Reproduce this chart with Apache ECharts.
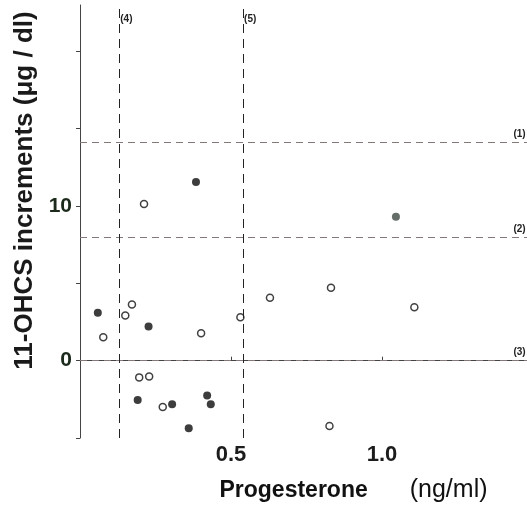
<!DOCTYPE html>
<html>
<head>
<meta charset="utf-8">
<script src="https://cdn.jsdelivr.net/npm/echarts@6/dist/echarts.min.js"></script>
<style>
  html, body { margin: 0; padding: 0; background: #fff; }
  #main { width: 527px; height: 517px; }
</style>
</head>
<body>
<div id="main"></div>
<script>
// 黑点
var filledX = [0.059, 0.384, 0.227, 0.191, 0.305, 0.421, 0.433, 0.360];
var filledY = [3.1, 11.56, 2.21, -2.55, -2.81, -2.25, -2.81, -4.37];
// 灰点（1个）
var grayX = [1.046];
var grayY = [9.31];
// 空心点
var openX = [0.077, 0.150, 0.172, 0.212, 0.196, 0.229, 0.274, 0.401, 0.531, 0.629, 0.831, 1.107, 0.826];
var openY = [1.51, 2.92, 3.64, 10.13, -1.08, -1.02, -2.99, 1.77, 2.81, 4.07, 4.72, 3.46, -4.22];

// 参考线
var hLines = [14.1, 8.0, 0];
var hLabels = ['(1)', '(2)', '(3)'];
var vLines = [0.13, 0.54];
var vLabels = ['(4)', '(5)'];

var yTickLabels = { 0: '0', 10: '10' };
var xTickLabels = { 0.5: '0.5', 1: '1.0' };

function zip(xs, ys) {
  return xs.map(function (x, i) { return [x, ys[i]]; });
}

var myChart = echarts.init(document.getElementById('main'));

var lineData = [];
hLines.forEach(function (v) {
  lineData.push({ yAxis: v, lineStyle: { type: [7, 5], color: '#857878', width: 1 } });
});
vLines.forEach(function (v) {
  lineData.push({ xAxis: v, lineStyle: { type: [9, 6], color: '#222', width: 1 } });
});

var option = {
  animation: false,
  backgroundColor: '#fff',
  grid: { left: 80, right: 0, top: 5, bottom: 79 },
  xAxis: {
    type: 'value',
    min: 0,
    max: 1.48,
    interval: 0.5,
    name: '{b|Progesterone}{gap|}{n|(ng/ml)}',
    nameLocation: 'middle',
    nameGap: 40,
    nameTextStyle: {
      padding: [0, 0, 0, 100],
      rich: {
        b: { fontFamily: 'Liberation Sans', fontWeight: 'bold', fontSize: 23, color: '#111' },
        gap: { width: 42 },
        n: { fontFamily: 'Liberation Sans', fontSize: 25, color: '#111' }
      }
    },
    axisLine: { lineStyle: { color: '#444', width: 1 } },
    axisTick: { inside: true, length: 4, lineStyle: { color: '#444' } },
    splitLine: { show: false },
    axisLabel: {
      margin: 6,
      fontFamily: 'Liberation Sans',
      fontWeight: 'bold',
      fontSize: 22,
      color: '#1c1c1c',
      showMaxLabel: false,
      formatter: function (v) { return xTickLabels[v] || ''; }
    }
  },
  yAxis: {
    type: 'value',
    min: -5,
    max: 23,
    interval: 5,
    name: '11-OHCS increments (μg / dl)',
    nameLocation: 'middle',
    nameRotate: 90,
    nameGap: 36,
    nameTextStyle: {
      fontFamily: 'Liberation Sans',
      fontWeight: 'bold',
      fontSize: 26,
      color: '#1a1a1a',
      padding: [0, 0, 0, 62]
    },
    axisLine: { lineStyle: { color: '#444', width: 1 } },
    axisTick: {
      length: 4,
      lineStyle: { color: '#444' },
      interval: function (i, v) { return v !== -5; }
    },
    splitLine: { show: false },
    axisLabel: {
      margin: 8,
      fontFamily: 'Liberation Sans',
      fontWeight: 'bold',
      fontSize: 21,
      color: '#1c2a1c',
      showMaxLabel: false,
      formatter: function (v) { return yTickLabels[v] || ''; }
    }
  },
  series: [
    {
      type: 'scatter',
      data: zip(openX, openY),
      symbol: 'circle',
      symbolSize: 7,
      itemStyle: { color: '#fff', borderColor: '#111', borderWidth: 1.5 },
      markLine: {
        silent: true,
        symbol: 'none',
        label: { show: false },
        data: lineData
      },
      z: 3
    },
    {
      type: 'scatter',
      data: zip(filledX, filledY),
      symbol: 'circle',
      symbolSize: 8,
      itemStyle: { color: '#0d0d0d' },
      z: 4
    },
    {
      type: 'scatter',
      data: zip(grayX, grayY),
      symbol: 'circle',
      symbolSize: 8,
      itemStyle: { color: '#3e4a44' },
      z: 4
    }
  ]
};

myChart.setOption(option);

// 参考线的编号
var texts = [];
hLines.forEach(function (v, i) {
  var p = myChart.convertToPixel({ gridIndex: 0 }, [1.435, v]);
  texts.push({
    type: 'text', x: p[0], y: p[1] - 3,
    style: { text: hLabels[i], fill: '#222', font: 'bold 10px "Liberation Sans"', textAlign: 'left', textVerticalAlign: 'bottom' }
  });
});
vLines.forEach(function (v, i) {
  var p = myChart.convertToPixel({ gridIndex: 0 }, [v, 22.1]);
  texts.push({
    type: 'text', x: p[0] + 1, y: p[1],
    style: { text: vLabels[i], fill: '#222', font: 'bold 10px "Liberation Sans"', textAlign: 'left', textVerticalAlign: 'middle' }
  });
});
myChart.setOption({ graphic: texts });
</script>
</body>
</html>
